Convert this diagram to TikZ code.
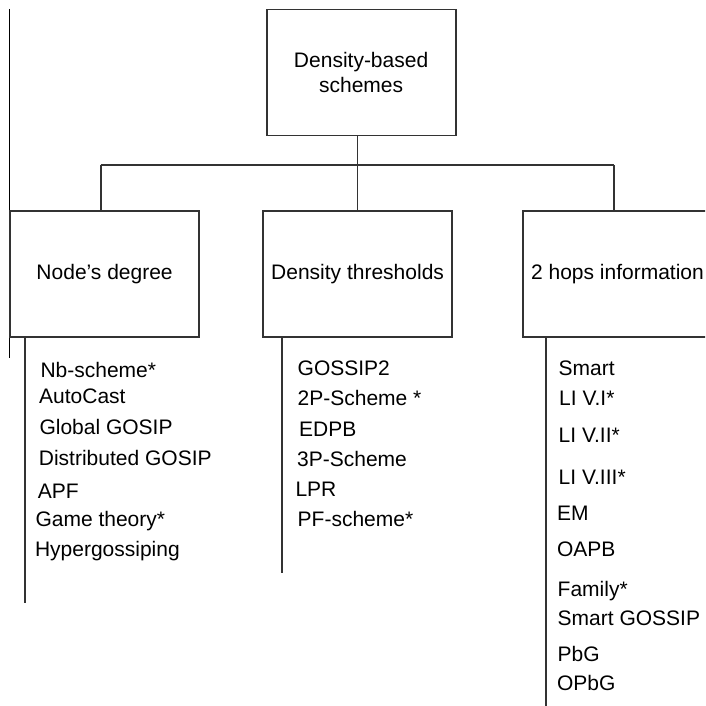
\documentclass[tikz,border=0pt]{standalone}
\usepackage{fontspec}
\setmainfont{Liberation Sans}
\begin{document}
\begin{tikzpicture}[x=1pt,y=-1pt,
  box/.style={draw=black!80, line width=1.9pt, minimum width=189pt, minimum height=126pt, inner sep=0pt, align=center, font=\fontsize{21}{25}\selectfont},
  item/.style={anchor=base west, inner sep=0pt, font=\fontsize{21}{25}\selectfont},
  link/.style={draw=black!80, line width=1.9pt},
  edge line/.style={draw=black, line width=1.4pt}]
\useasboundingbox (0,0) rectangle (705,706);
\clip (0,0) rectangle (705,706);
% stray left line
\coordinate (eTop) at (9.3,9);
\coordinate (eBot) at (9.3,358);
\draw[edge line] (eTop) -- (eBot);
% boxes
\node[box] (root) at (361.1,72.5) {Density-based\\schemes};
\node[box] (nd) at (104.6,273.6) {Node’s degree};
\node[box] (dt) at (357.6,273.6) {Density thresholds};
\node[box] (hop) at (617.5,273.6) {2 hops information};
% tree connectors
\coordinate (bus) at (357.5,165);
\coordinate (bL) at (100.7,165);
\coordinate (bR) at (613.8,165);
\draw[link] (root.south -| bus) -- (bus);
\draw[link] (bL) -- (bR);
\draw[link] (bL) -- (bL |- nd.north);
\draw[link] (bus) -- (bus |- dt.north);
\draw[link] (bR) -- (bR |- hop.north);
% list lines
\coordinate (ndEnd) at (25,603);
\coordinate (dtEnd) at (281.7,573);
\coordinate (hopEnd) at (545.7,710);
\draw[link] (ndEnd |- nd.south) -- (ndEnd);
\draw[link] (dtEnd |- dt.south) -- (dtEnd);
\draw[link] (hopEnd |- hop.south) -- (hopEnd);
% left list
\node[item] (n1) at (40.3,377) {Nb-scheme*};
\node[item] (n2) at (39,403.7) {AutoCast};
\node[item] (n3) at (39.3,434.2) {Global GOSIP};
\node[item] (n4) at (38.7,465.8) {Distributed GOSIP};
\node[item] (n5) at (37.7,498.3) {APF};
\node[item] (n6) at (35.3,526.7) {Game theory*};
\node[item] (n7) at (34.8,556) {Hypergossiping};
% middle list
\node[item] (d1) at (297.5,375) {GOSSIP2};
\node[item] (d2) at (297.5,405) {2P-Scheme *};
\node[item] (d3) at (299,436) {EDPB};
\node[item] (d4) at (297,466) {3P-Scheme};
\node[item] (d5) at (295.3,496) {LPR};
\node[item] (d6) at (297.5,526) {PF-scheme*};
% right list
\node[item] (h1) at (558.5,375) {Smart};
\node[item] (h2) at (559,405.7) {LI V.I*};
\node[item] (h3) at (558.5,442.7) {LI V.II*};
\node[item] (h4) at (558.5,484) {LI V.III*};
\node[item] (h5) at (557,520) {EM};
\node[item] (h6) at (556.8,556.7) {OAPB};
\node[item] (h7) at (557.5,596.7) {Family*};
\node[item] (h8) at (557.5,625) {Smart GOSSIP};
\node[item] (h9) at (557.5,661.7) {PbG};
\node[item] (h10) at (556.8,690) {OPbG};
\end{tikzpicture}
\end{document}
